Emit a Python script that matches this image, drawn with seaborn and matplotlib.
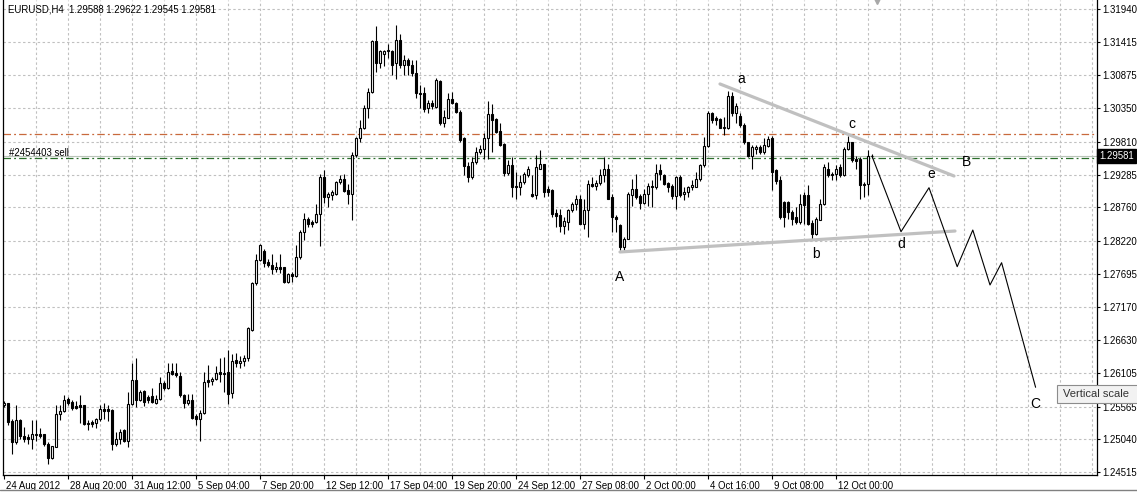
import numpy as np
import pandas as pd
import matplotlib
matplotlib.use("Agg")
import matplotlib.pyplot as plt
import matplotlib.transforms as mtransforms
from matplotlib.lines import Line2D
from matplotlib.patches import Rectangle
import seaborn as sns

# ---------------- data ----------------
chart_title = "EURUSD,H4  1.29588 1.29622 1.29545 1.29581"

opens = [
    1.2559, 1.2562, 1.2533, 1.2500, 1.2535, 1.2510, 1.2508, 1.2504, 1.2511, 1.2513,
    1.2512, 1.2497, 1.2475, 1.2492, 1.2545, 1.2549, 1.2569, 1.2564, 1.2557, 1.2559,
    1.2559, 1.2528, 1.2532, 1.2531, 1.2536, 1.2552, 1.2552, 1.2551, 1.2497, 1.2505,
    1.2519, 1.2501, 1.2561, 1.2600, 1.2567, 1.2582, 1.2572, 1.2573, 1.2563, 1.2569,
    1.2595, 1.2587, 1.2613, 1.2611, 1.2605, 1.2575, 1.2563, 1.2567, 1.2541, 1.2536,
    1.2546, 1.2599, 1.2598, 1.2601, 1.2612, 1.2611, 1.2612, 1.2578, 1.2631, 1.2626,
    1.2629, 1.2634, 1.2680, 1.2754, 1.2791, 1.2806, 1.2789, 1.2784, 1.2777, 1.2781,
    1.2780, 1.2757, 1.2769, 1.2766, 1.2796, 1.2837, 1.2858, 1.2853, 1.2853, 1.2865,
    1.2925, 1.2893, 1.2896, 1.2898, 1.2916, 1.2922, 1.2904, 1.2898, 1.2960, 1.2987,
    1.3003, 1.3036, 1.3061, 1.3143, 1.3108, 1.3122, 1.3126, 1.3127, 1.3107, 1.3145,
    1.3104, 1.3113, 1.3104, 1.3092, 1.3060, 1.3059, 1.3035, 1.3043, 1.3037, 1.3079,
    1.3012, 1.3020, 1.3049, 1.3044, 1.3029, 1.2987, 1.2942, 1.2924, 1.2949, 1.2964,
    1.2969, 1.2987, 1.3026, 1.3017, 1.2999, 1.2977, 1.2931, 1.2944, 1.2910, 1.2909,
    1.2917, 1.2928, 1.2898, 1.2896, 1.2938, 1.2945, 1.2906, 1.2904, 1.2867, 1.2864,
    1.2846, 1.2853, 1.2871, 1.2882, 1.2890, 1.2849, 1.2871, 1.2913, 1.2910, 1.2915,
    1.2928, 1.2938, 1.2892, 1.2861, 1.2847, 1.2812, 1.2826, 1.2896, 1.2906, 1.2894,
    1.2883, 1.2897, 1.2910, 1.2908, 1.2936, 1.2928, 1.2915, 1.2910, 1.2894, 1.2924,
    1.2897, 1.2901, 1.2908, 1.2909, 1.2921, 1.2944, 1.2974, 1.3027, 1.3019, 1.3017,
    1.3004, 1.3004, 1.3055, 1.3028, 1.3022, 1.3008, 1.2980, 1.2958, 1.2970, 1.2972,
    1.2965, 1.2974, 1.2987, 1.2936, 1.2920, 1.2885, 1.2885, 1.2869, 1.2860, 1.2853,
    1.2896, 1.2896, 1.2851, 1.2833, 1.2856, 1.2881, 1.2938, 1.2929, 1.2929, 1.2941,
    1.2928, 1.2969, 1.2980, 1.2954, 1.2954, 1.2912, 1.2913, 1.29588,
]

highs = [
    1.2566, 1.2563, 1.2536, 1.2560, 1.2536, 1.2524, 1.2513, 1.2535, 1.2535, 1.2522,
    1.2513, 1.2500, 1.2494, 1.2560, 1.2560, 1.2576, 1.2572, 1.2567, 1.2565, 1.2575,
    1.2559, 1.2535, 1.2535, 1.2539, 1.2559, 1.2562, 1.2559, 1.2552, 1.2516, 1.2520,
    1.2520, 1.2580, 1.2626, 1.2635, 1.2584, 1.2584, 1.2575, 1.2587, 1.2575, 1.2604,
    1.2598, 1.2626, 1.2626, 1.2626, 1.2612, 1.2577, 1.2577, 1.2577, 1.2544, 1.2551,
    1.2612, 1.2623, 1.2604, 1.2621, 1.2634, 1.2636, 1.2647, 1.2641, 1.2643, 1.2637,
    1.2640, 1.2685, 1.2757, 1.2802, 1.2817, 1.2809, 1.2794, 1.2802, 1.2789, 1.2802,
    1.2781, 1.2770, 1.2773, 1.2816, 1.2840, 1.2867, 1.2861, 1.2855, 1.2882, 1.2929,
    1.2936, 1.2901, 1.2904, 1.2919, 1.2928, 1.2929, 1.2914, 1.2965, 1.2988, 1.3016,
    1.3040, 1.3067, 1.3145, 1.3166, 1.3129, 1.3129, 1.3138, 1.3128, 1.3168, 1.3154,
    1.3120, 1.3116, 1.3112, 1.3112, 1.3072, 1.3069, 1.3048, 1.3048, 1.3083, 1.3080,
    1.3032, 1.3059, 1.3061, 1.3045, 1.3032, 1.2988, 1.2949, 1.2957, 1.2973, 1.2976,
    1.2995, 1.3047, 1.3042, 1.3019, 1.3011, 1.2979, 1.2952, 1.2957, 1.2933, 1.2928,
    1.2933, 1.2942, 1.2928, 1.2960, 1.2968, 1.2946, 1.2910, 1.2905, 1.2873, 1.2874,
    1.2860, 1.2874, 1.2885, 1.2896, 1.2896, 1.2890, 1.2920, 1.2925, 1.2920, 1.2937,
    1.2956, 1.2945, 1.2898, 1.2864, 1.2849, 1.2829, 1.2901, 1.2922, 1.2930, 1.2897,
    1.2906, 1.2915, 1.2920, 1.2945, 1.2945, 1.2930, 1.2917, 1.2914, 1.2926, 1.2928,
    1.2908, 1.2910, 1.2920, 1.2933, 1.2946, 1.2989, 1.3031, 1.3029, 1.3022, 1.3019,
    1.3021, 1.3063, 1.3061, 1.3043, 1.3028, 1.3011, 1.2981, 1.2976, 1.2976, 1.2976,
    1.2987, 1.2990, 1.2990, 1.2938, 1.2926, 1.2887, 1.2887, 1.2872, 1.2877, 1.2898,
    1.2901, 1.2912, 1.2855, 1.2861, 1.2890, 1.2945, 1.2948, 1.2933, 1.2944, 1.2945,
    1.2972, 1.2990, 1.2981, 1.2958, 1.2956, 1.2917, 1.2968, 1.29622,
]

lows = [
    1.2556, 1.2527, 1.2481, 1.2497, 1.2505, 1.2500, 1.2497, 1.2489, 1.2502, 1.2507,
    1.2494, 1.2465, 1.2473, 1.2492, 1.2535, 1.2548, 1.2560, 1.2551, 1.2552, 1.2530,
    1.2527, 1.2519, 1.2524, 1.2523, 1.2533, 1.2536, 1.2533, 1.2487, 1.2494, 1.2497,
    1.2500, 1.2492, 1.2559, 1.2556, 1.2566, 1.2557, 1.2562, 1.2562, 1.2561, 1.2567,
    1.2584, 1.2585, 1.2607, 1.2604, 1.2572, 1.2555, 1.2560, 1.2537, 1.2527, 1.2501,
    1.2545, 1.2588, 1.2592, 1.2599, 1.2596, 1.2580, 1.2561, 1.2570, 1.2620, 1.2618,
    1.2621, 1.2630, 1.2678, 1.2751, 1.2790, 1.2781, 1.2781, 1.2769, 1.2773, 1.2770,
    1.2754, 1.2755, 1.2757, 1.2765, 1.2794, 1.2823, 1.2845, 1.2845, 1.2851, 1.2814,
    1.2883, 1.2877, 1.2888, 1.2896, 1.2913, 1.2900, 1.2881, 1.2856, 1.2957, 1.2980,
    1.3001, 1.3019, 1.3059, 1.3093, 1.3100, 1.3102, 1.3115, 1.3088, 1.3081, 1.3099,
    1.3088, 1.3088, 1.3086, 1.3052, 1.3036, 1.3029, 1.3028, 1.3033, 1.3036, 1.3008,
    1.3005, 1.3019, 1.3042, 1.3028, 1.2980, 1.2928, 1.2917, 1.2922, 1.2946, 1.2961,
    1.2953, 1.2953, 1.2965, 1.2995, 1.2974, 1.2926, 1.2928, 1.2893, 1.2889, 1.2896,
    1.2914, 1.2925, 1.2893, 1.2889, 1.2937, 1.2893, 1.2894, 1.2861, 1.2845, 1.2837,
    1.2833, 1.2840, 1.2869, 1.2871, 1.2849, 1.2842, 1.2828, 1.2909, 1.2904, 1.2912,
    1.2917, 1.2889, 1.2837, 1.2837, 1.2807, 1.2808, 1.2825, 1.2878, 1.2890, 1.2874,
    1.2881, 1.2878, 1.2877, 1.2906, 1.2920, 1.2912, 1.2901, 1.2890, 1.2874, 1.2893,
    1.2888, 1.2892, 1.2904, 1.2908, 1.2919, 1.2941, 1.2972, 1.3011, 1.3008, 1.3003,
    1.2992, 1.3001, 1.3022, 1.3011, 1.3005, 1.2977, 1.2956, 1.2937, 1.2962, 1.2962,
    1.2962, 1.2973, 1.2904, 1.2914, 1.2858, 1.2845, 1.2857, 1.2848, 1.2850, 1.2850,
    1.2850, 1.2848, 1.2826, 1.2832, 1.2855, 1.2880, 1.2924, 1.2920, 1.2920, 1.2925,
    1.2926, 1.2968, 1.2949, 1.2937, 1.2890, 1.2893, 1.2896, 1.29545,
]

closes = [
    1.2563, 1.2532, 1.2500, 1.2535, 1.2510, 1.2505, 1.2504, 1.2513, 1.2513, 1.2510,
    1.2496, 1.2474, 1.2493, 1.2545, 1.2549, 1.2568, 1.2562, 1.2554, 1.2554, 1.2556,
    1.2528, 1.2531, 1.2529, 1.2536, 1.2552, 1.2550, 1.2550, 1.2497, 1.2505, 1.2516,
    1.2501, 1.2561, 1.2600, 1.2567, 1.2580, 1.2564, 1.2567, 1.2564, 1.2569, 1.2595,
    1.2587, 1.2612, 1.2609, 1.2607, 1.2575, 1.2562, 1.2567, 1.2539, 1.2536, 1.2546,
    1.2596, 1.2596, 1.2601, 1.2611, 1.2609, 1.2609, 1.2577, 1.2630, 1.2626, 1.2630,
    1.2634, 1.2682, 1.2754, 1.2791, 1.2815, 1.2787, 1.2783, 1.2777, 1.2781, 1.2778,
    1.2757, 1.2769, 1.2766, 1.2796, 1.2837, 1.2858, 1.2849, 1.2850, 1.2865, 1.2925,
    1.2892, 1.2897, 1.2900, 1.2916, 1.2922, 1.2903, 1.2898, 1.2960, 1.2987, 1.3003,
    1.3036, 1.3061, 1.3143, 1.3108, 1.3127, 1.3126, 1.3128, 1.3104, 1.3145, 1.3104,
    1.3113, 1.3104, 1.3091, 1.3059, 1.3058, 1.3033, 1.3043, 1.3038, 1.3080, 1.3012,
    1.3021, 1.3049, 1.3044, 1.3029, 1.2984, 1.2942, 1.2924, 1.2949, 1.2964, 1.2969,
    1.2987, 1.3026, 1.3016, 1.2997, 1.2976, 1.2931, 1.2944, 1.2909, 1.2908, 1.2917,
    1.2929, 1.2938, 1.2894, 1.2940, 1.2945, 1.2901, 1.2901, 1.2866, 1.2862, 1.2846,
    1.2854, 1.2872, 1.2882, 1.2890, 1.2850, 1.2872, 1.2913, 1.2910, 1.2915, 1.2928,
    1.2938, 1.2890, 1.2860, 1.2858, 1.2812, 1.2826, 1.2897, 1.2906, 1.2893, 1.2883,
    1.2898, 1.2910, 1.2908, 1.2931, 1.2929, 1.2914, 1.2908, 1.2894, 1.2924, 1.2896,
    1.2901, 1.2908, 1.2912, 1.2921, 1.2944, 1.2974, 1.3027, 1.3016, 1.3016, 1.3004,
    1.3005, 1.3055, 1.3027, 1.3038, 1.3008, 1.2980, 1.2958, 1.2972, 1.2973, 1.2965,
    1.2976, 1.2985, 1.2933, 1.2919, 1.2861, 1.2860, 1.2869, 1.2858, 1.2853, 1.2881,
    1.2880, 1.2850, 1.2833, 1.2857, 1.2882, 1.2940, 1.2928, 1.2928, 1.2938, 1.2928,
    1.2969, 1.2980, 1.2952, 1.2951, 1.2912, 1.2914, 1.2958, 1.29581,
]

time_labels = ["24 Aug 2012", "28 Aug 20:00", "31 Aug 12:00", "5 Sep 04:00",
               "7 Sep 20:00", "12 Sep 12:00", "17 Sep 04:00", "19 Sep 20:00",
               "24 Sep 12:00", "27 Sep 08:00", "2 Oct 00:00", "4 Oct 16:00",
               "9 Oct 08:00", "12 Oct 00:00"]
label_bars = [0, 16, 32, 48, 64, 80, 96, 112, 128, 144, 160, 176, 192, 208]

price_ticks = [1.31940, 1.31415, 1.30875, 1.30350, 1.29810, 1.29285, 1.28760,
               1.28220, 1.27695, 1.27170, 1.26630, 1.26105, 1.25565, 1.25040, 1.24515]

bid_price = 1.29581
order_price = 1.29547
stop_price = 1.29931
order_text = "#2454403 sell"

upper_line_x = [179, 237.5]
upper_line_y = [1.30738, 1.29263]
lower_line_x = [154, 237.75]
lower_line_y = [1.28045, 1.28381]

proj_x = [217, 224.25, 231.25, 238.3, 242.2, 246.5, 249.4, 257.9]
proj_y = [1.29581, 1.28370, 1.29075, 1.27809, 1.28397, 1.27516, 1.27873, 1.25876]

wave_labels = ["a", "c", "B", "e", "d", "b", "A", "C"]
wave_x = [184.2, 212, 240.7, 231.9, 224.25, 202.9, 154, 257.9]
wave_y = [1.30818, 1.30097, 1.29483, 1.29290, 1.28173, 1.28013, 1.27644, 1.25603]

# ---------------- frame ----------------
n = min(len(opens), len(highs), len(lows), len(closes))
df = pd.DataFrame({"bar": np.arange(n), "open": opens[:n], "high": highs[:n],
                   "low": lows[:n], "close": closes[:n]})

sns.set_theme(style="white")
plt.rcParams['font.family'] = ['Liberation Sans', 'DejaVu Sans']
FS = 6.9

W, H = 1137, 497
fig = plt.figure(figsize=(W / 100, H / 100), dpi=100)
fig.patch.set_facecolor("white")
ax = fig.add_axes([3 / W, 22 / H, 1094 / W, 475 / H])
ax.set_facecolor("white")
ax.set_xlim(-0.25, 273.25)
ax.set_ylim(1.24470, 1.32084)

grid_kw = dict(color="#c0c0c0", lw=0.8, ls=(0, (2.2, 2.2)), zorder=0)
for p in price_ticks:
    ax.axhline(p, **grid_kw)
for gx in range(8, 274, 8):
    ax.axvline(gx, **grid_kw)

# level lines
ax.axhline(stop_price, color="#c8693c", lw=0.9, ls=(0, (6, 2.5, 1.5, 2.5)), zorder=1)
ax.axhline(bid_price, color="#b9c4b9", lw=0.8, zorder=1)
ax.axhline(order_price, color="#2a6e2a", lw=0.9, ls=(0, (6, 2.5, 1.5, 2.5)), zorder=1)

# candles
bull = df["close"] >= df["open"]
body_lo = np.minimum(df["open"], df["close"])
body_h = (df["close"] - df["open"]).abs()
ax.vlines(df["bar"], df["low"], df["high"], color="black", lw=0.8, zorder=2)
ax.bar(df["bar"][bull], body_h[bull], bottom=body_lo[bull], width=0.55,
       facecolor="white", edgecolor="black", linewidth=0.8, zorder=3)
ax.bar(df["bar"][~bull], body_h[~bull], bottom=body_lo[~bull], width=0.55,
       facecolor="black", edgecolor="black", linewidth=0.8, zorder=3)

# trend lines and projection
sns.lineplot(x=upper_line_x, y=upper_line_y, ax=ax, color="#c0c0c0", lw=2.3,
             sort=False, estimator=None, zorder=4)
sns.lineplot(x=lower_line_x, y=lower_line_y, ax=ax, color="#c0c0c0", lw=2.3,
             sort=False, estimator=None, zorder=4)
sns.lineplot(x=proj_x, y=proj_y, ax=ax, color="black", lw=0.8,
             sort=False, estimator=None, zorder=5)

for s, x, y in zip(wave_labels, wave_x, wave_y):
    ax.text(x, y, s, ha="center", va="center", fontsize=10, color="black", zorder=6)

# chart shift marker
ax.plot([218.3], [1.3208], marker="v", color="#a8a8a8", ms=6, zorder=6)

# texts
ax.text(5 / 1094, 1 - 9 / 475, chart_title, transform=ax.transAxes,
        ha="left", va="center", fontsize=FS, color="black")
ax.text(6 / 1094, 1.29627, order_text,
        transform=mtransforms.blended_transform_factory(ax.transAxes, ax.transData),
        ha="left", va="center", fontsize=FS, color="black")

# axes
for side in ["left", "right", "bottom"]:
    ax.spines[side].set_visible(True)
    ax.spines[side].set_color("black")
    ax.spines[side].set_linewidth(0.9)
ax.spines["top"].set_visible(False)

ax.set_yticks(price_ticks)
ax.set_yticklabels([f"{p:.5f}" for p in price_ticks])
ax.tick_params(axis="y", left=False, right=True, labelleft=False, labelright=True,
               length=2.5, width=0.8, pad=1.0, labelsize=FS, colors="black")
ax.set_xticks(label_bars)
ax.set_xticklabels(time_labels, ha="left")
ax.tick_params(axis="x", bottom=True, length=3, width=0.8, pad=1.2,
               labelsize=FS, colors="black")
offset = mtransforms.ScaledTranslation(2 / 100, 0, fig.dpi_scale_trans)
for lbl in ax.get_xticklabels():
    lbl.set_transform(lbl.get_transform() + offset)

ax.text(1.0 + 2 / 1094, bid_price, f"{bid_price:.5f}",
        transform=mtransforms.blended_transform_factory(ax.transAxes, ax.transData),
        ha="left", va="center", fontsize=FS, color="white", clip_on=False, zorder=7,
        bbox=dict(boxstyle="square,pad=0.2", facecolor="black", edgecolor="black"))

# tooltip
fig.add_artist(Rectangle((1057 / W, 1 - 403 / H), 90 / W, 18 / H,
                         transform=fig.transFigure, facecolor="#f2f2f2",
                         edgecolor="#8c8c8c", lw=0.8, zorder=9))
fig.text(1063 / W, 1 - 394 / H, "Vertical scale", ha="left", va="center",
         fontsize=8.0, color="#333333", zorder=10)

# window tab bar separator
fig.add_artist(Line2D([0, 1], [1 - 490 / H, 1 - 490 / H], transform=fig.transFigure,
                      color="#808080", lw=1.0))

fig.savefig("out.png", dpi=100, facecolor="white")
